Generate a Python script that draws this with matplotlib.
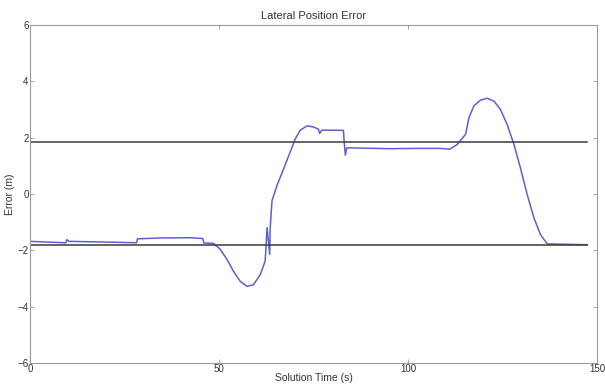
import matplotlib

matplotlib.use("Agg")
import matplotlib.pyplot as plt  # noqa: E402

# Lateral error trace (time in s, error in m)
time_s = [0.0, 9.5, 9.7, 10.3, 18.5, 28.2, 28.4, 34.4, 42.4, 45.7, 46.0, 48.5,
          50.3, 52.1, 53.8, 55.6, 57.4, 59.1, 60.9, 62.2, 62.7, 63.4, 63.5,
          64.0, 65.3, 67.1, 68.8, 70.2, 71.5, 73.3, 75.0, 76.3, 76.6, 77.2,
          82.9, 83.1, 83.4, 83.8, 95.3, 102.0, 108.5, 111.0, 113.0, 115.2,
          116.1, 117.4, 119.1, 120.9, 122.7, 124.4, 126.2, 128.0, 129.7,
          131.5, 133.3, 135.0, 136.8, 147.4]
error_m = [-1.68, -1.73, -1.62, -1.68, -1.70, -1.73, -1.59, -1.56, -1.55, -1.58,
           -1.74, -1.75, -1.96, -2.32, -2.74, -3.10, -3.28, -3.22, -2.86, -2.38,
           -1.19, -2.14, -1.25, -0.24, 0.30, 0.90, 1.49, 1.97, 2.27, 2.42, 2.38,
           2.30, 2.15, 2.27, 2.26, 1.85, 1.38, 1.64, 1.61, 1.62, 1.62, 1.59,
           1.76, 2.12, 2.71, 3.13, 3.33, 3.40, 3.30, 3.01, 2.47, 1.76, 0.93,
           -0.02, -0.85, -1.44, -1.77, -1.80]

# lane boundary lines
bound_upper = 1.85
bound_lower = -1.82
bound_end = 147.4

x_ticks = [0, 50, 100, 150]
y_ticks = [-6, -4, -2, 0, 2, 4, 6]

plt.rcParams["font.family"] = ["Liberation Sans", "DejaVu Sans"]

fig = plt.figure(figsize=(6.05, 3.85), dpi=100, facecolor="white")
ax = fig.add_axes([0.0496, 0.057, 0.9374, 0.878])

ax.plot(time_s, error_m, color="#5f5fd4", linewidth=1.1)
ax.plot([0, bound_end], [bound_upper, bound_upper], color="#3a3a3a", linewidth=1.1)
ax.plot([0, bound_end], [bound_lower, bound_lower], color="#3a3a3a", linewidth=1.1)

ax.set_xlim(0, 150)
ax.set_ylim(-6, 6)
ax.set_xticks(x_ticks)
ax.set_yticks(y_ticks)

for spine in ax.spines.values():
    spine.set_color("#9a9a9a")
    spine.set_linewidth(0.8)

ax.tick_params(direction="in", top=True, right=True, length=3, width=0.6,
               colors="#9a9a9a", labelcolor="#333333", labelsize=7, pad=1)

ax.set_title("Lateral Position Error", fontsize=8, color="#333333", pad=4)
ax.set_xlabel("Solution Time (s)", fontsize=7.5, color="#333333", labelpad=-1)
ax.set_ylabel("Error (m)", fontsize=7.5, color="#333333", labelpad=2)

plt.savefig("out.png", dpi=100, facecolor="white")
plt.close()
